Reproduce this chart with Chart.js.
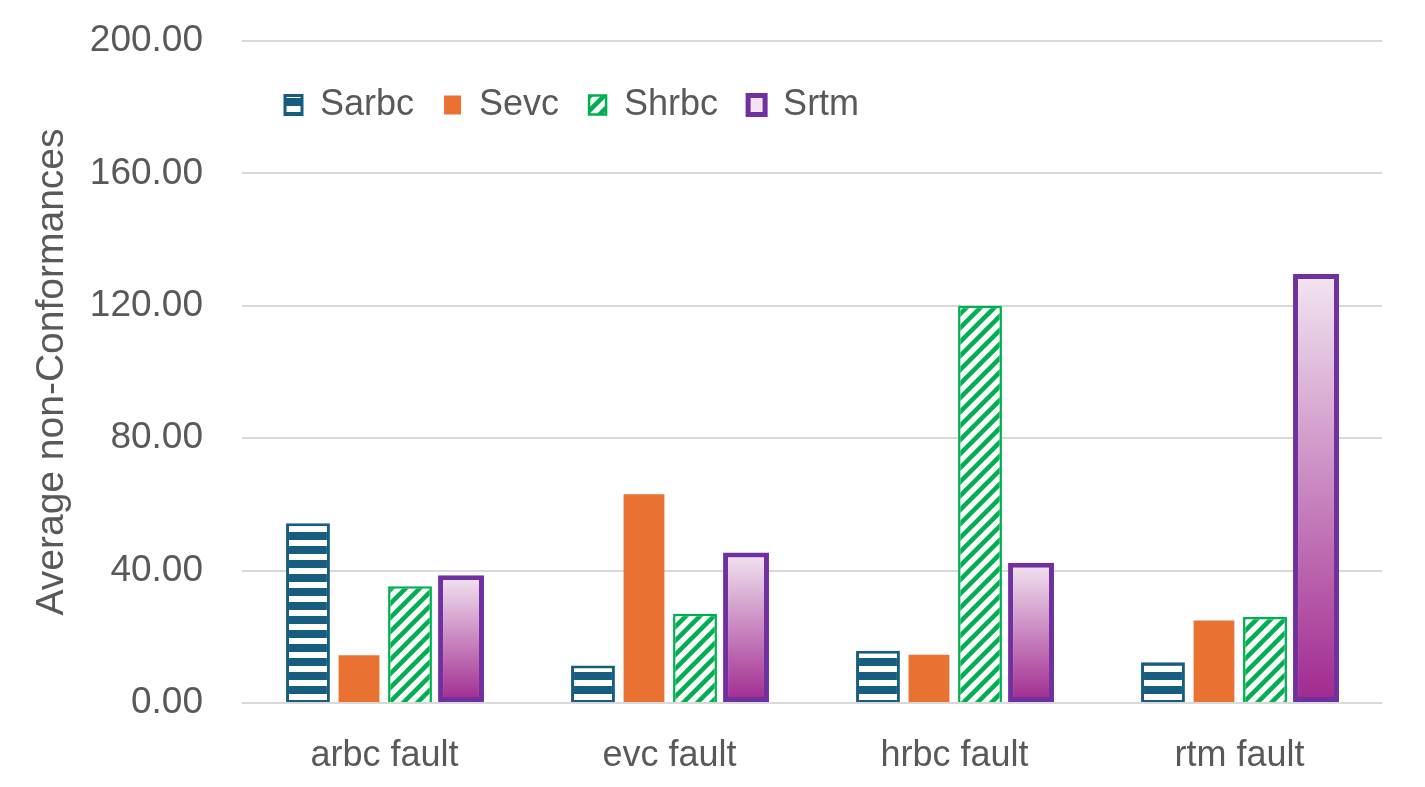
<!DOCTYPE html>
<html>
<head>
<meta charset="utf-8">
<script src="https://cdn.jsdelivr.net/npm/chart.js@4"></script>
<style>
  html, body { margin: 0; padding: 0; background: #fff; }
</style>
</head>
<body>
<canvas id="barChart" width="1425" height="787"></canvas>
<script>
// Datos
const categorias = ['arbc fault', 'evc fault', 'hrbc fault', 'rtm fault'];
const sarbc = [54.3, 11.3, 15.8, 12.3];
const sevc = [14.4, 63.1, 14.6, 24.9];
const shrbc = [35.3, 27.0, 120.0, 26.0];
const srtm = [38.6, 45.5, 42.4, 129.6];
const yTicks = [0, 40, 80, 120, 160, 200];

const textoGris = '#595959';
Chart.defaults.font.family = '"Liberation Sans", Arial, sans-serif';
Chart.defaults.color = textoGris;

// Trama de rayas horizontales
function rayasHorizontales(color) {
  const c = document.createElement('canvas');
  c.width = 14; c.height = 14;
  const g = c.getContext('2d');
  g.fillStyle = color;
  g.fillRect(0, 0, 14, 14);
  g.fillStyle = '#ffffff';
  g.fillRect(0, 8, 14, 6);
  return g.createPattern(c, 'repeat');
}

// Trama de diagonales anchas
function rayasDiagonales(color) {
  const s = 14;
  const c = document.createElement('canvas');
  c.width = s; c.height = s;
  const g = c.getContext('2d');
  g.fillStyle = '#ffffff';
  g.fillRect(0, 0, s, s);
  g.strokeStyle = color;
  g.lineWidth = 4.5;
  g.beginPath();
  g.moveTo(-2, s + 2); g.lineTo(s + 2, -2);
  g.moveTo(-4, 4); g.lineTo(4, -4);
  g.moveTo(s - 4, s + 4); g.lineTo(s + 4, s - 4);
  g.stroke();
  return g.createPattern(c, 'repeat');
}

// Degradado vertical por barra
function degradado(context) {
  const chart = context.chart;
  const { ctx, chartArea, scales } = chart;
  if (!chartArea || context.type !== 'data') return '#d9a6d2';
  const arriba = scales.y.getPixelForValue(context.raw);
  const base = scales.y.getPixelForValue(0);
  const grad = ctx.createLinearGradient(0, arriba, 0, base);
  grad.addColorStop(0, '#f2e5f1');
  grad.addColorStop(1, '#a0298f');
  return grad;
}

// Leyenda dentro del área del gráfico
const leyendaDentro = {
  id: 'leyendaDentro',
  afterInit(chart) {
    const leyenda = chart.legend;
    const fitOriginal = leyenda.fit;
    leyenda.fit = function () {
      fitOriginal.call(this);
      this._altoReal = this.height;
      this.height = 0;
    };
  },
  afterLayout(chart) {
    const leyenda = chart.legend;
    const area = chart.chartArea;
    leyenda.left = area.left + 13;
    leyenda.right = area.right;
    leyenda.width = leyenda.right - leyenda.left;
    leyenda.top = area.top + 16;
    leyenda.height = leyenda._altoReal;
    leyenda.bottom = leyenda.top + leyenda.height;
  }
};

const ctx = document.getElementById('barChart').getContext('2d');

const barChart = new Chart(ctx, {
  type: 'bar',
  data: {
    labels: categorias,
    datasets: [
      {
        label: 'Sarbc',
        data: sarbc,
        backgroundColor: rayasHorizontales('#165d80'),
        borderColor: '#165d80',
        borderWidth: 3,
        barPercentage: 0.86
      },
      {
        label: 'Sevc',
        data: sevc,
        backgroundColor: '#e97132',
        borderWidth: 0,
        barPercentage: 0.80
      },
      {
        label: 'Shrbc',
        data: shrbc,
        backgroundColor: rayasDiagonales('#00b050'),
        borderColor: '#00b050',
        borderWidth: 2.5,
        barPercentage: 0.86
      },
      {
        label: 'Srtm',
        data: srtm,
        backgroundColor: degradado,
        borderColor: '#7030a0',
        borderWidth: 5,
        borderSkipped: false,
        barPercentage: 0.90
      }
    ]
  },
  options: {
    responsive: false,
    animation: false,
    layout: { padding: { top: 41, right: 43, bottom: 0, left: 0 } },
    datasets: { bar: { categoryPercentage: 0.716 } },
    scales: {
      x: {
        grid: { display: false, drawTicks: false },
        border: { display: false },
        ticks: { color: textoGris, font: { size: 36 }, padding: 31 },
        afterFit(scale) { scale.height = 84; }
      },
      y: {
        min: 0,
        max: 200,
        afterBuildTicks(scale) { scale.ticks = yTicks.map(v => ({ value: v })); },
        ticks: {
          color: textoGris,
          font: { size: 37 },
          padding: 39,
          callback: v => Number(v).toFixed(2)
        },
        grid: { color: '#d9d9d9', lineWidth: 2, drawTicks: false },
        border: { display: false },
        title: {
          display: true,
          text: 'Average non-Conformances',
          color: textoGris,
          font: { size: 39 },
          padding: { top: 29, bottom: 0 }
        },
        afterFit(scale) {
          scale.width = 242;
          scale.paddingTop = 0;
          scale.paddingBottom = 0;
        }
      }
    },
    plugins: {
      legend: {
        position: 'top',
        align: 'start',
        labels: {
          color: textoGris,
          font: { size: 36 },
          boxWidth: 17,
          boxHeight: 19,
          padding: 30
        }
      },
      tooltip: { enabled: false }
    }
  },
  plugins: [leyendaDentro]
});
</script>
</body>
</html>
